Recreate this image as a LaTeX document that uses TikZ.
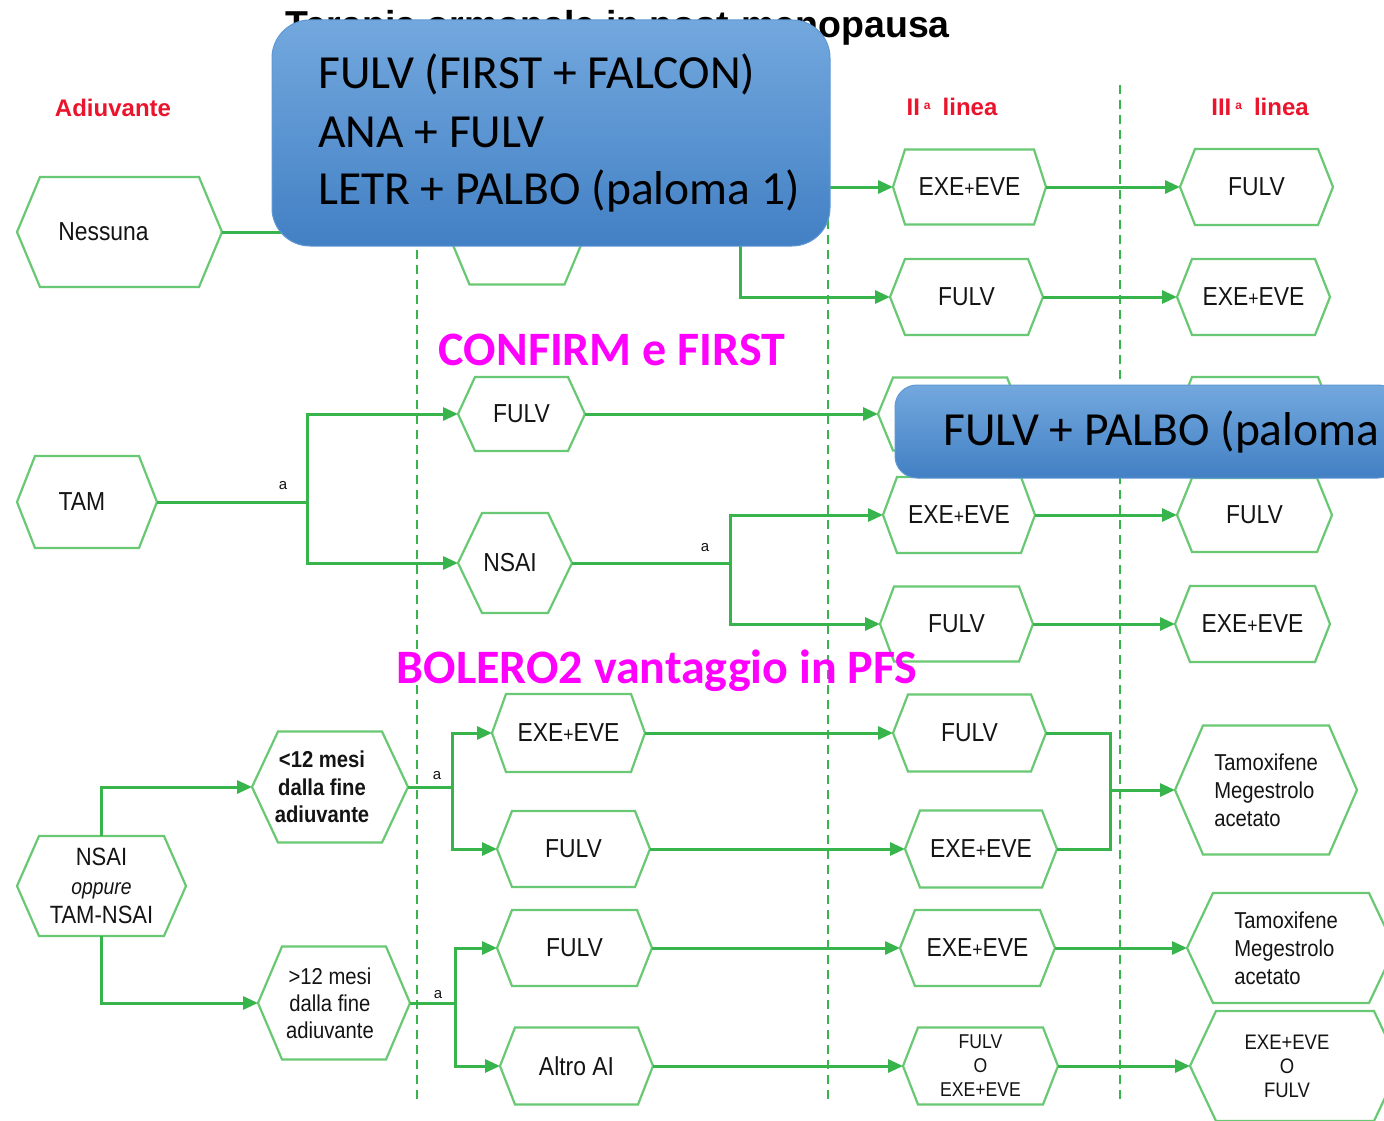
\documentclass[tikz,border=0pt]{standalone}
\usepackage{fontspec}
\setmainfont{Liberation Sans}
\newfontfamily\condf[FakeStretch=0.88]{Liberation Sans}
\newfontfamily\calf{Carlito}
\usetikzlibrary{arrows.meta}
\definecolor{hexgreen}{RGB}{105,200,115}
\definecolor{lngreen}{RGB}{55,180,75}
\definecolor{hdrred}{RGB}{235,20,45}
\definecolor{magc}{RGB}{255,0,255}
\definecolor{boxtop}{RGB}{115,168,222}
\definecolor{boxbot}{RGB}{66,128,196}
\definecolor{boxedge}{RGB}{95,152,212}
\definecolor{txtc}{RGB}{20,20,20}
\newcommand\smplus{{\fontsize{20}{20}\selectfont+}}
\tikzset{
  hexbox/.style={inner sep=0pt, outer sep=0pt, draw=none},
  hexline/.style={draw=hexgreen, line width=2.2pt, fill=white},
  hextext/.style={inner sep=0pt, align=center, text=txtc, font=\condf\fontsize{26}{30}\selectfont},
  conn/.style={draw=lngreen, line width=3pt},
  arr/.style={conn, -{Triangle[length=15pt,width=13pt]}},
  divline/.style={draw=lngreen, line width=1.8pt, dash pattern=on 9pt off 6pt},
  hdr/.style={text=hdrred, font=\bfseries\fontsize{24}{28}\selectfont, inner sep=0pt},
  albl/.style={text=txtc, font=\fontsize{15}{18}\selectfont, inner sep=0pt},
  bluebox/.style={top color=boxtop, bottom color=boxbot, draw=boxedge, line width=1pt, inner sep=0pt},
  boxtext/.style={text=black, font=\calf\fontsize{47.5}{56}\selectfont, inner sep=0pt},
  magtext/.style={text=magc, font=\calf\bfseries\fontsize{48}{56}\selectfont, inner sep=0pt},
  titletext/.style={text=black, font=\bfseries\fontsize{37.5}{44}\selectfont, inner sep=0pt}
}
% [text opts]{name}{cx}{cy}{w}{h}{inset}{text}
\newcommand\hexnode[8][]{%
  \node[hexbox, minimum width=#5pt, minimum height=#6pt] (#2) at (#3,#4) {};
  \path[hexline] (#2.west) -- ([xshift=#7pt]#2.north west) -- ([xshift=-#7pt]#2.north east)
     -- (#2.east) -- ([xshift=-#7pt]#2.south east) -- ([xshift=#7pt]#2.south west) -- cycle;
  \node[hextext,#1] (#2-t) at (#2.center) {#8};
}
\begin{document}
\begin{tikzpicture}[x=1pt,y=-1pt]
\useasboundingbox (0,0) rectangle (1384,1121);
\clip (0,0) rectangle (1384,1121);
\fill[white] (0,0) rectangle (1384,1121);

% title
\node[titletext, anchor=base east] (title) at (950,38) {Terapia ormonale in post-menopausa};

% headers
\node[hdr, anchor=base] (hAd) at (113,117) {Adiuvante};
\node[hdr, anchor=base] (hII) at (952,116) {II\,\raisebox{6pt}{\fontsize{12}{12}\selectfont a}\hspace{12pt}linea};
\node[hdr, anchor=base] (hIII) at (1260,116) {III\,\raisebox{6pt}{\fontsize{12}{12}\selectfont a}\hspace{12pt}linea};

% dividers
\draw[divline] (417,85) -- (417,1100);
\draw[divline] (828,85) -- (828,1100);
\draw[divline] (1120,85) -- (1120,1100);

% row 1
\hexnode[xshift=-16pt]{nes}{119.5}{232}{205}{110}{23}{Nessuna}
\hexnode{h1}{517}{232}{139}{105}{22}{}
\hexnode{e1}{969.5}{187}{153}{75}{12}{EXE\smplus EVE}
\hexnode{f1}{1256.5}{187}{153}{76}{15}{FULV}
\hexnode{f2}{966.5}{297}{153}{76}{15}{FULV}
\hexnode{e2}{1253.5}{297}{153}{76}{15}{EXE\smplus EVE}

% row 2
\hexnode[xshift=-5pt]{tam}{87}{502}{140}{92}{18}{TAM}
\hexnode{f3}{521.5}{414}{127}{74}{17}{FULV}
\hexnode[xshift=-5pt]{ns}{515}{563}{114}{100}{24}{NSAI}
\hexnode{h2}{950}{414}{144}{73}{15}{}
\hexnode{h3}{1255}{414}{156}{74}{15}{}
\hexnode{e3}{959}{515}{152}{76}{14}{EXE\smplus EVE}
\hexnode{f4}{956.5}{624}{153}{75}{14}{FULV}
\hexnode{f5}{1254.5}{515}{155}{74}{15}{FULV}
\hexnode{e4}{1252.5}{624}{155}{76}{15}{EXE\smplus EVE}

% row 3
\hexnode[font=\condf\fontsize{25}{29}\selectfont]{nt}{101.5}{886}{169}{100}{22}{NSAI\\{\itshape\fontsize{22}{24}\selectfont oppure}\\TAM-NSAI}
\hexnode[xshift=-8pt, font=\condf\bfseries\fontsize{23}{27.5}\selectfont]{lt}{330}{787}{156}{111}{26}{<12 mesi\\dalla fine\\adiuvante}
\hexnode[xshift=-4pt, font=\condf\fontsize{23}{27}\selectfont]{gt}{334}{1003}{152}{113}{24}{>12 mesi\\dalla fine\\adiuvante}
\hexnode{e5}{568.5}{733}{153}{78}{14}{EXE\smplus EVE}
\hexnode{f6}{573.5}{849}{153}{76}{15}{FULV}
\hexnode{f7}{574.5}{948}{155}{76}{15}{FULV}
\hexnode{al}{576.5}{1066}{153}{77}{15}{Altro AI}
\hexnode{f8}{969.5}{733}{153}{77}{15}{FULV}
\hexnode{e6}{981}{849}{152}{77}{15}{EXE\smplus EVE}
\hexnode{e7}{977.5}{948}{155}{76}{15}{EXE\smplus EVE}
\hexnode[font=\condf\fontsize{20}{24}\selectfont]{fo}{980.5}{1066}{155}{77}{15}{FULV\\O\\EXE+EVE}
\hexnode[align=left, font=\condf\fontsize{23}{28}\selectfont]{tm1}{1266}{790}{182}{129}{28}{Tamoxifene\\Megestrolo\\acetato}
\hexnode[align=left, xshift=-5pt, font=\condf\fontsize{23}{28}\selectfont]{tm2}{1291}{948}{208}{110}{26}{Tamoxifene\\Megestrolo\\acetato}
\hexnode[xshift=-8pt, font=\condf\fontsize{21}{24}\selectfont]{eo}{1295}{1066}{210}{110}{26}{EXE+EVE\\O\\FULV}

% connectors row 1
\coordinate (j1) at (740,232);
\draw[arr] (nes.east) -- (h1.west);
\draw[conn] (h1.east) -- (j1);
\draw[arr] (j1) |- (e1.west);
\draw[arr] (j1) |- (f2.west);
\draw[arr] (e1.east) -- (f1.west);
\draw[arr] (f2.east) -- (e2.west);

% connectors row 2
\coordinate (j2) at (307,502);
\draw[conn] (tam.east) -- (j2);
\draw[arr] (j2) |- (f3.west);
\draw[arr] (j2) |- (ns.west);
\draw[arr] (f3.east) -- (h2.west);
\draw[arr] (h2.east) -- (h3.west);
\coordinate (j3) at (730,563);
\draw[conn] (ns.east) -- (j3);
\draw[arr] (j3) |- (e3.west);
\draw[arr] (j3) |- (f4.west);
\draw[arr] (e3.east) -- (f5.west);
\draw[arr] (f4.east) -- (e4.west);
\node[albl] (a1) at (283,486) {a};
\node[albl] (a2) at (705,548) {a};

% connectors row 3
\draw[arr] (nt.north) |- (lt.west);
\draw[arr] (nt.south) |- (gt.west);
\coordinate (j4) at (452,787);
\draw[conn] (lt.east) -- (j4);
\draw[arr] (j4) |- (e5.west);
\draw[arr] (j4) |- (f6.west);
\coordinate (j5) at (455,1003);
\draw[conn] (gt.east) -- (j5);
\draw[arr] (j5) |- (f7.west);
\draw[arr] (j5) |- (al.west);
\draw[arr] (e5.east) -- (f8.west);
\draw[arr] (f6.east) -- (e6.west);
\draw[arr] (f7.east) -- (e7.west);
\draw[arr] (al.east) -- (fo.west);
\coordinate (j6) at (1110,790);
\draw[conn] (f8.east) -| (j6);
\draw[conn] (e6.east) -| (j6);
\draw[arr] (j6) -- (tm1.west);
\draw[arr] (e7.east) -- (tm2.west);
\draw[arr] (fo.east) -- (eo.west);
\node[albl] (a3) at (437,776) {a};
\node[albl] (a4) at (438,995) {a};

% magenta notes
\node[magtext, anchor=base] (conf) at (612,365) {CONFIRM e FIRST};
\node[magtext, anchor=base] (bol) at (657,683) {BOLERO2 vantaggio in PFS};

% blue boxes
\node[bluebox, rounded corners=38pt, minimum width=558pt, minimum height=226pt] (box1) at (551,133) {};
\node[boxtext, anchor=base west] (b1a) at (318,89) {FULV (FIRST + FALCON)};
\node[boxtext, anchor=base west] (b1b) at (318,147) {ANA + FULV};
\node[boxtext, anchor=base west] (b1c) at (318,204) {LETR + PALBO (paloma 1)};
\node[bluebox, rounded corners=22pt, minimum width=505pt, minimum height=93pt] (box2) at (1147.5,431.5) {};
\node[boxtext, anchor=base west] (b2a) at (943,445) {FULV + PALBO (paloma};
\end{tikzpicture}
\end{document}
